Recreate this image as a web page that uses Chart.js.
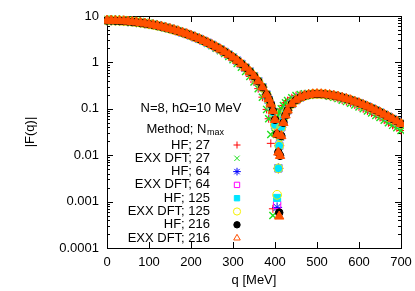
<!DOCTYPE html>
<html>
<head>
<meta charset="utf-8">
<script src="https://cdn.jsdelivr.net/npm/chart.js@4.4.1/dist/chart.umd.min.js"></script>
<style>
  html, body { margin: 0; padding: 0; background: #fff; }
  canvas { display: block; }
</style>
</head>
<body>
<canvas id="chart" width="415" height="291"></canvas>
<script>
// q grid outside the dip region (MeV)
const qMain = [0, 10, 20, 30, 40, 50, 60, 70, 80, 90, 100, 110, 120, 130, 140, 150, 160, 170, 180, 190,
  200, 210, 220, 230, 240, 250, 260, 270, 280, 290, 300, 310, 320, 330, 340, 350, 360, 370, 380,
  430, 440, 450, 460, 470, 480, 490, 500, 510, 520, 530, 540, 550, 560, 570, 580, 590, 600,
  610, 620, 630, 640, 650, 660, 670, 680, 690, 700];

// Nmax = 27 curve (HF and EXX DFT lie on top of each other)
const curve27 = [8.56, 8.54, 8.49, 8.41, 8.30, 8.16, 7.98, 7.78, 7.56, 7.31, 7.04, 6.76, 6.46, 6.14, 5.82,
  5.48, 5.15, 4.81, 4.47, 4.13, 3.80, 3.48, 3.17, 2.86, 2.57, 2.30, 2.03, 1.78, 1.55, 1.34, 1.14, 0.953,
  0.786, 0.635, 0.499, 0.378, 0.272, 0.178, 0.097,
  0.150, 0.173, 0.192, 0.203, 0.210, 0.213, 0.213, 0.209, 0.203, 0.196, 0.187, 0.177, 0.166, 0.154,
  0.143, 0.132, 0.121, 0.110, 0.100, 0.090, 0.081, 0.072, 0.065, 0.057, 0.050, 0.044, 0.039, 0.034];

// Nmax >= 64 curve (all the larger bases coincide)
const curve216 = [8.00, 7.99, 7.94, 7.87, 7.78, 7.65, 7.50, 7.33, 7.13, 6.92, 6.68, 6.43, 6.16, 5.89, 5.60,
  5.30, 5.00, 4.70, 4.39, 4.09, 3.79, 3.49, 3.21, 2.92, 2.65, 2.39, 2.14, 1.91, 1.68, 1.47, 1.28, 1.09,
  0.926, 0.772, 0.633, 0.506, 0.393, 0.292, 0.203,
  0.0926, 0.127, 0.154, 0.175, 0.190, 0.201, 0.207, 0.209, 0.208, 0.205, 0.199, 0.192, 0.184, 0.174,
  0.164, 0.154, 0.143, 0.133, 0.122, 0.112, 0.102, 0.0925, 0.0836, 0.0752, 0.0674, 0.0603, 0.0536, 0.0475];

// points around the zero of the form factor, one array per series
const qDip = [385, 390, 395, 400, 405, 408, 410, 412, 415, 420, 425];
const dipHF27 = [0.061, 0.018, 0.0007, 0.030, 0.056, 0.070, 0.079, 0.087, 0.0995, 0.118, 0.135];
const dipEXX27 = [0.061, 0.028, 0.0005, 0.030, 0.056, 0.070, 0.079, 0.087, 0.0995, 0.118, 0.135];
const dipHF64 = [0.155, 0.118, 0.083, 0.045, 0.00075, 0.0052, 0.016, 0.025, 0.040, 0.062, 0.080];
const dipEXX64 = [0.155, 0.118, 0.083, 0.045, 0.00085, 0.0052, 0.016, 0.025, 0.040, 0.062, 0.080];
const dipHF125 = [0.155, 0.118, 0.083, 0.045, 0.0012, 0.0052, 0.016, 0.025, 0.040, 0.062, 0.080];
const dipEXX125 = [0.155, 0.118, 0.083, 0.045, 0.0014, 0.0052, 0.016, 0.025, 0.040, 0.062, 0.080];
const dipHF216 = [0.163, 0.126, 0.0905, 0.058, 0.0283, 0.0115, 0.00058, 0.0097, 0.026, 0.050, 0.0725];
const dipEXX216 = [0.163, 0.126, 0.0905, 0.058, 0.0283, 0.0115, 0.00048, 0.0097, 0.026, 0.050, 0.0725];

const xTicks = [0, 100, 200, 300, 400, 500, 600, 700];
const yTicks = [10, 1, 0.1, 0.01, 0.001, 0.0001];
const yTickLabels = ['10', '1', '0.1', '0.01', '0.001', '0.0001'];

const FONT = '13px "Liberation Sans", Arial, Helvetica, sans-serif';

function points(qs, vals) {
  return qs.map((q, i) => ({ x: q, y: vals[i] }));
}

// r = marker radius in the plot, k = marker radius in the key
const series = [
  { label: 'HF; 27', color: '#ff0000', style: 'cross', r: 4, k: 3.5, bw: 1, fill: false, main: curve27, dip: dipHF27 },
  { label: 'EXX DFT; 27', color: '#1ee01e', style: 'crossRot', r: 5, k: 3.8, bw: 1.4, fill: false, main: curve27, dip: dipEXX27 },
  { label: 'HF; 64', color: '#0000ff', style: 'star', r: 5, k: 3.8, bw: 1, fill: false, main: curve216, dip: dipHF64 },
  { label: 'EXX DFT; 64', color: '#ff00ff', style: 'rect', r: 5.2, k: 3.8, bw: 1, fill: false, main: curve216, dip: dipEXX64 },
  { label: 'HF; 125', color: '#00e5ff', style: 'rect', r: 5, k: 3.8, bw: 1, fill: true, main: curve216, dip: dipHF125 },
  { label: 'EXX DFT; 125', color: '#f5f000', style: 'circle', r: 4.4, k: 3.6, bw: 1, fill: false, main: curve216, dip: dipEXX125 },
  { label: 'HF; 216', color: '#000000', style: 'circle', r: 3.8, k: 3.2, bw: 1, fill: true, main: curve216, dip: dipHF216 },
  { label: 'EXX DFT; 216', color: '#ff5000', style: 'triangle', r: 5.4, k: 3.8, bw: 1, fill: true, main: curve216, dip: dipEXX216 }
];

// Chart.js paints higher "order" first, so the last series ends up on top (as in gnuplot)
const datasets = series.map((s, i) => ({
  label: s.label,
  data: points(qMain, s.main).concat(points(qDip, s.dip)),
  order: series.length - i,
  pointStyle: s.style,
  pointRadius: s.r,
  pointBorderWidth: s.bw,
  pointBorderColor: s.color,
  pointBackgroundColor: s.fill ? s.color : 'rgba(0,0,0,0)',
  showLine: false,
  clip: 3
}));

// frame + inward ticks, drawn under the points
const framePlugin = {
  id: 'frame',
  beforeDatasetsDraw(chart) {
    const { ctx, chartArea: a, scales: { x, y } } = chart;
    ctx.save();
    ctx.strokeStyle = '#000';
    ctx.lineWidth = 1;
    ctx.beginPath();
    xTicks.forEach(v => {
      const px = Math.round(x.getPixelForValue(v)) + 0.5;
      ctx.moveTo(px, a.bottom); ctx.lineTo(px, a.bottom - 6);
      ctx.moveTo(px, a.top); ctx.lineTo(px, a.top + 6);
    });
    yTicks.forEach(v => {
      const py = Math.round(y.getPixelForValue(v)) + 0.5;
      ctx.moveTo(a.left, py); ctx.lineTo(a.left + 6, py);
      ctx.moveTo(a.right, py); ctx.lineTo(a.right - 6, py);
    });
    for (let d = 0.0001; d < 5; d *= 10) {
      for (let k = 2; k <= 9; k++) {
        const py = Math.round(y.getPixelForValue(k * d)) + 0.5;
        ctx.moveTo(a.left, py); ctx.lineTo(a.left + 3, py);
        ctx.moveTo(a.right, py); ctx.lineTo(a.right - 3, py);
      }
    }
    ctx.stroke();
    ctx.strokeRect(Math.round(a.left) + 0.5, Math.round(a.top) + 0.5,
      Math.round(a.right - a.left), Math.round(a.bottom - a.top));
    ctx.restore();
  }
};

// tick labels, titles and the in-plot key
const labelPlugin = {
  id: 'labels',
  afterDraw(chart) {
    const { ctx, chartArea: a, scales: { x, y } } = chart;
    ctx.save();
    ctx.fillStyle = '#000';
    ctx.font = FONT;
    ctx.textBaseline = 'middle';

    ctx.textAlign = 'center';
    xTicks.forEach(v => ctx.fillText(String(v), x.getPixelForValue(v), a.bottom + 14));
    ctx.fillText('q [MeV]', (a.left + a.right) / 2, a.bottom + 32);

    ctx.textAlign = 'right';
    yTicks.forEach((v, i) => ctx.fillText(yTickLabels[i], a.left - 8, y.getPixelForValue(v)));

    ctx.save();
    ctx.translate(30, (a.top + a.bottom) / 2);
    ctx.rotate(-Math.PI / 2);
    ctx.textAlign = 'center';
    ctx.fillText('|F(q)|', 0, 0);
    ctx.restore();

    // header of the key
    ctx.textAlign = 'center';
    ctx.fillText('N=8, hΩ=10 MeV', 191, 108);
    const head = 'Method; N';
    ctx.font = FONT;
    const w1 = ctx.measureText(head).width;
    ctx.font = '9px "Liberation Sans", Arial, sans-serif';
    const w2 = ctx.measureText('max').width;
    const hx = 185 - (w1 + w2) / 2;
    ctx.textAlign = 'left';
    ctx.font = FONT;
    ctx.fillText(head, hx, 129);
    ctx.font = '9px "Liberation Sans", Arial, sans-serif';
    ctx.fillText('max', hx + w1 + 0.5, 133);

    // entries
    ctx.font = FONT;
    ctx.textAlign = 'right';
    series.forEach((s, i) => {
      const ly = 145 + i * 13.3;
      ctx.fillStyle = '#000';
      ctx.fillText(s.label, 210, ly);
      ctx.strokeStyle = s.color;
      ctx.fillStyle = s.fill && s.style !== 'triangle' ? s.color : 'rgba(0,0,0,0)';
      ctx.lineWidth = 1;
      Chart.helpers.drawPoint(ctx, {
        pointStyle: s.style,
        radius: s.k,
        rotation: 0,
        borderWidth: 1
      }, 237, ly);
    });
    ctx.restore();
  }
};

new Chart(document.getElementById('chart'), {
  type: 'scatter',
  data: { datasets },
  options: {
    responsive: false,
    animation: false,
    devicePixelRatio: 1,
    layout: { padding: { left: 107, right: 14, top: 16, bottom: 43 } },
    plugins: { legend: { display: false }, tooltip: { enabled: false } },
    scales: {
      x: { type: 'linear', min: 0, max: 700, display: false },
      y: { type: 'logarithmic', min: 0.0001, max: 10, display: false }
    }
  },
  plugins: [framePlugin, labelPlugin]
});
</script>
</body>
</html>
